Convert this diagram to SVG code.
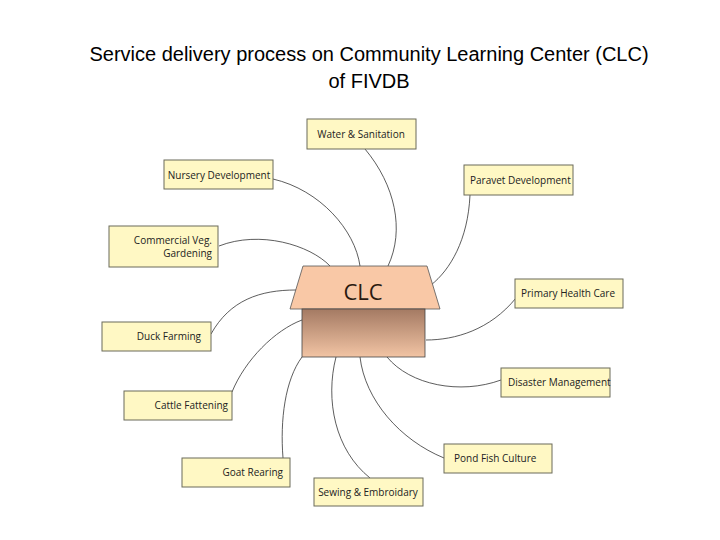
<svg xmlns="http://www.w3.org/2000/svg" width="720" height="540" viewBox="0 0 720 540">
<style>
.b{fill:#fff8c4;stroke:#6b6b5a;stroke-width:1}
.t{font-family:"Open Sans","DejaVu Sans",sans-serif;font-size:10px;fill:#222}
.c{fill:none;stroke:#333;stroke-width:0.8}
</style>
<defs><linearGradient id="g" x1="0" y1="0" x2="0" y2="1"><stop offset="0" stop-color="#a47a63"/><stop offset="1" stop-color="#f2c4a4"/></linearGradient></defs>
<rect width="720" height="540" fill="#fff"/>
<text x="369" y="61" text-anchor="middle" font-family="Liberation Sans,sans-serif" font-size="20">Service delivery process on Community Learning Center (CLC)</text>
<text x="369" y="88" text-anchor="middle" font-family="Liberation Sans,sans-serif" font-size="20">of FIVDB</text>
<g id="connectors">
<path class="c" d="M365,149 C395,185 405,230 388,266"/>
<path class="c" d="M273,179 C320,190 355,230 360,266"/>
<path class="c" d="M219,246 C260,230 310,245 330,266"/>
<path class="c" d="M211,334 C230,300 260,290 296,290"/>
<path class="c" d="M232,392 C245,360 275,330 302,320"/>
<path class="c" d="M283,458 C280,420 285,380 302,357"/>
<path class="c" d="M370,478 C335,450 325,400 336,357"/>
<path class="c" d="M444,458 C400,440 365,400 360,357"/>
<path class="c" d="M501,380 C460,395 410,385 387,357"/>
<path class="c" d="M516,298 C490,330 455,340 426,340"/>
<path class="c" d="M470,195 C468,240 450,270 431,285"/>
</g>
<g id="clc">
<polygon points="303,266 427,266 440,309 290,309" fill="#f9c8a6" stroke="#555" stroke-width="0.8"/>
<rect x="302" y="309" width="123" height="48" fill="url(#g)" stroke="#444" stroke-width="0.8"/>
<text x="363" y="300" text-anchor="middle" font-family="Open Sans,sans-serif" font-size="22" fill="#2a1a10">CLC</text>
</g>
<g id="water"><rect class="b" x="307" y="119" width="109" height="30"/><text class="t" x="361" y="138" text-anchor="middle">Water &amp; Sanitation</text></g>
<g id="nursery"><rect class="b" x="164" y="160" width="109" height="29"/><text class="t" x="219" y="179" text-anchor="middle">Nursery Development</text></g>
<g id="veg"><rect class="b" x="109" y="226" width="109" height="41"/><text class="t" x="212" y="244" text-anchor="end">Commercial Veg.</text><text class="t" x="212" y="257" text-anchor="end">Gardening</text></g>
<g id="duck"><rect class="b" x="102" y="322" width="109" height="29"/><text class="t" x="201" y="340" text-anchor="end">Duck Farming</text></g>
<g id="cattle"><rect class="b" x="124" y="391" width="108" height="29"/><text class="t" x="228" y="409" text-anchor="end">Cattle Fattening</text></g>
<g id="goat"><rect class="b" x="182" y="458" width="108" height="29"/><text class="t" x="283" y="476" text-anchor="end">Goat Rearing</text></g>
<g id="sewing"><rect class="b" x="314" y="478" width="109" height="28"/><text class="t" x="368" y="496" text-anchor="middle">Sewing &amp; Embroidary</text></g>
<g id="pond"><rect class="b" x="444" y="444" width="108" height="29"/><text class="t" x="454" y="462">Pond Fish Culture</text></g>
<g id="disaster"><rect class="b" x="501" y="368" width="109" height="29"/><text class="t" x="508" y="386">Disaster Management</text></g>
<g id="health"><rect class="b" x="515" y="279" width="108" height="29"/><text class="t" x="521" y="297">Primary Health Care</text></g>
<g id="paravet"><rect class="b" x="464" y="165" width="109" height="30"/><text class="t" x="470" y="184">Paravet Development</text></g>
</svg>
